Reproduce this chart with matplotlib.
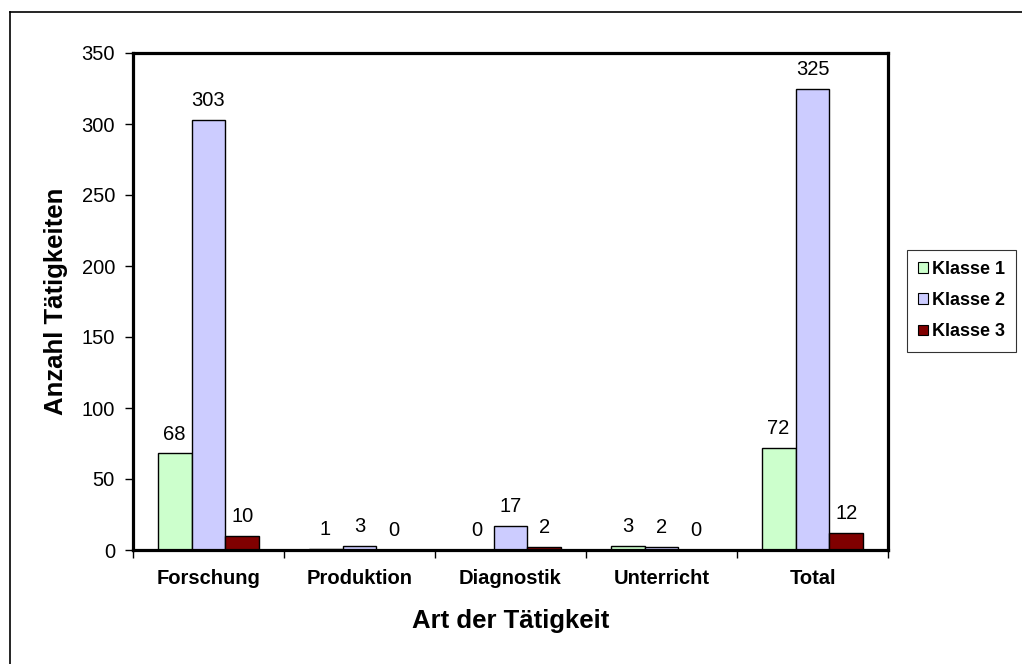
import matplotlib
matplotlib.use("Agg")
import matplotlib.pyplot as plt
import numpy as np
from matplotlib.lines import Line2D
from matplotlib.patches import Patch

plt.rcParams["font.family"] = ["Liberation Sans", "DejaVu Sans"]

categories = ["Forschung", "Produktion", "Diagnostik", "Unterricht", "Total"]
series_names = ["Klasse 1", "Klasse 2", "Klasse 3"]
klasse1 = [68, 1, 0, 3, 72]
klasse2 = [303, 3, 17, 2, 325]
klasse3 = [10, 0, 2, 0, 12]
colors = ["#CCFFCC", "#CCCCFF", "#800000"]
y_ticks = [0, 50, 100, 150, 200, 250, 300, 350]

W, H = 1022, 664
fig = plt.figure(figsize=(W / 100, H / 100), dpi=100)
fig.patch.set_facecolor("white")

# outer chart frame (left and top edges)
fig.add_artist(Line2D([10 / W, 10 / W], [0, 1 - 12 / H], transform=fig.transFigure,
                      color="black", lw=1.2))
fig.add_artist(Line2D([10 / W, 1], [1 - 12 / H, 1 - 12 / H], transform=fig.transFigure,
                      color="black", lw=1.2))

ax = fig.add_axes([133 / W, (H - 550) / H, 755 / W, 497 / H])

x = np.arange(len(categories))
bw = 0.225
for i, (vals, c) in enumerate(zip([klasse1, klasse2, klasse3], colors)):
    pos = x + (i - 1) * bw
    ax.bar(pos, vals, width=bw, color=c, edgecolor="black", linewidth=1.0, zorder=2)
    for px, v in zip(pos, vals):
        ax.annotate(str(v), (px, v), xytext=(0, 7), textcoords="offset points",
                    ha="center", va="bottom", fontsize=14.5)

ax.set_xlim(-0.5, len(categories) - 0.5)
ax.set_ylim(0, 350)
ax.set_yticks(y_ticks)
ax.set_yticklabels([str(t) for t in y_ticks], fontsize=14.5)
ax.set_xticks(x)
ax.set_xticklabels(categories, fontsize=14.5, fontweight="bold")
ax.set_xticks(np.arange(len(categories) + 1) - 0.5, minor=True)
ax.tick_params(axis="x", which="major", length=0, pad=13.5)
ax.tick_params(axis="x", which="minor", length=6, width=1, direction="out")
ax.tick_params(axis="y", which="major", length=6, width=1, direction="out", pad=7)

for s in ax.spines.values():
    s.set_linewidth(2.3)
    s.set_color("black")

ax.set_ylabel("Anzahl Tätigkeiten", fontsize=18.5, fontweight="bold", labelpad=10)
ax.set_xlabel("Art der Tätigkeit", fontsize=18.5, fontweight="bold", labelpad=15)

handles = [Patch(facecolor=c, edgecolor="black", linewidth=0.8) for c in colors]
leg = fig.legend(handles, series_names, loc="upper left",
                 bbox_to_anchor=(907 / W, 1 - 250 / H), bbox_transform=fig.transFigure,
                 prop={"size": 13, "weight": "bold"}, frameon=True, fancybox=False,
                 edgecolor="black", handlelength=0.55, handleheight=0.55, handletextpad=0.2,
                 labelspacing=0.78, borderpad=0.62, borderaxespad=0)
leg.get_frame().set_linewidth(0.8)

fig.savefig("out.png", dpi=100, facecolor="white")
